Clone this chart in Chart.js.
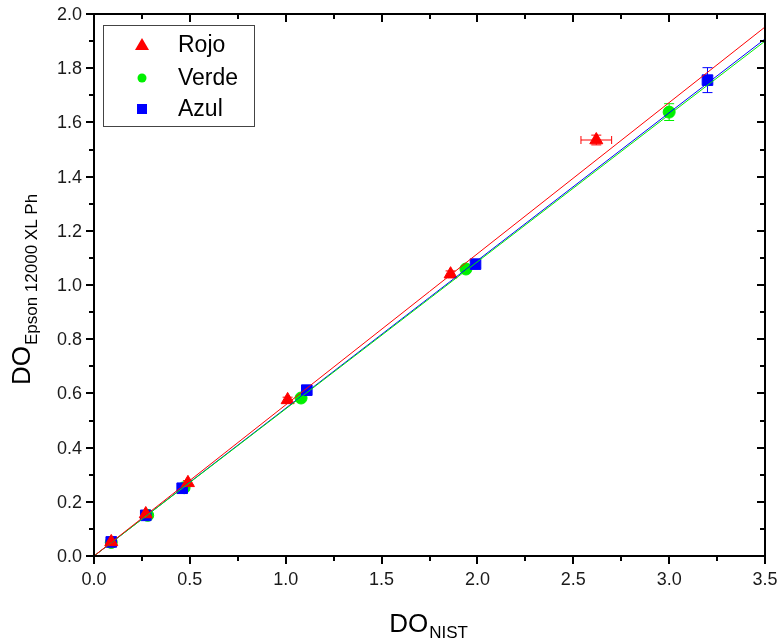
<!DOCTYPE html>
<html>
<head>
<meta charset="utf-8">
<script src="https://cdn.jsdelivr.net/npm/chart.js@4.4.0/dist/chart.umd.min.js"></script>
<style>
  html, body { margin: 0; padding: 0; background: #fff; }
  #wrap { width: 783px; height: 642px; }
</style>
</head>
<body>
<div id="wrap"><canvas id="mycanvas" width="783" height="642"></canvas></div>
<script>
// measured points (DO_NIST vs DO_Epson)
var rojoX = [0.09, 0.27, 0.49, 1.01, 1.86, 2.62];
var rojoY = [0.052, 0.155, 0.270, 0.576, 1.040, 1.535];
var rojoXErr = [0.01, 0.01, 0.01, 0.01, 0.01, 0.08];
var rojoYErr = [0.008, 0.008, 0.008, 0.010, 0.012, 0.018];

var verdeX = [0.09, 0.28, 0.47, 1.08, 1.94, 3.00];
var verdeY = [0.050, 0.150, 0.252, 0.583, 1.059, 1.638];
var verdeXErr = [0.01, 0.01, 0.01, 0.01, 0.01, 0.02];
var verdeYErr = [0.008, 0.008, 0.008, 0.010, 0.012, 0.031];

var azulX = [0.09, 0.27, 0.46, 1.11, 1.99, 3.20];
var azulY = [0.052, 0.150, 0.250, 0.612, 1.077, 1.756];
var azulXErr = [0.01, 0.01, 0.01, 0.01, 0.01, 0.02];
var azulYErr = [0.008, 0.008, 0.008, 0.010, 0.012, 0.046];

// linear fits, evaluated at the axis ends
var fitX = [0, 3.5];
var rojoFit = [0.0, 1.952];
var verdeFit = [0.0, 1.900];
var azulFit = [0.0, 1.908];

var xTicks = [0, 0.5, 1.0, 1.5, 2.0, 2.5, 3.0, 3.5];
var yTicks = [0, 0.2, 0.4, 0.6, 0.8, 1.0, 1.2, 1.4, 1.6, 1.8, 2.0];

var series = ['Rojo', 'Verde', 'Azul'];
var colors = ['#ff0000', '#00f000', '#0000ff'];

function pts(xs, ys) {
  var out = [];
  for (var i in xs) out.push({x: xs[i], y: ys[i]});
  return out;
}

var errs = [
  {x: rojoXErr, y: rojoYErr},
  {x: verdeXErr, y: verdeYErr},
  {x: azulXErr, y: azulYErr}
];

var FONT = '"Liberation Sans", Arial, sans-serif';

var errorBars = {
  id: 'errorBars',
  beforeDatasetsDraw: function(chart) {
    var ctx = chart.ctx, xs = chart.scales.x, ys = chart.scales.y;
    ctx.save();
    ctx.lineWidth = 1;
    for (var d = 0; d < 3; d++) {
      var data = chart.data.datasets[d].data;
      ctx.strokeStyle = colors[d];
      for (var i = 0; i < data.length; i++) {
        var p = data[i];
        var px = xs.getPixelForValue(p.x), py = ys.getPixelForValue(p.y);
        var x1 = xs.getPixelForValue(p.x - errs[d].x[i]), x2 = xs.getPixelForValue(p.x + errs[d].x[i]);
        var y1 = ys.getPixelForValue(p.y - errs[d].y[i]), y2 = ys.getPixelForValue(p.y + errs[d].y[i]);
        ctx.beginPath();
        ctx.moveTo(x1, py); ctx.lineTo(x2, py);
        ctx.moveTo(x1, py - 4); ctx.lineTo(x1, py + 4);
        ctx.moveTo(x2, py - 4); ctx.lineTo(x2, py + 4);
        ctx.moveTo(px, y1); ctx.lineTo(px, y2);
        ctx.moveTo(px - 5, y1); ctx.lineTo(px + 5, y1);
        ctx.moveTo(px - 5, y2); ctx.lineTo(px + 5, y2);
        ctx.stroke();
      }
    }
    ctx.restore();
  }
};

function subText(ctx, main, sub, mainSize, subSize, drop) {
  ctx.font = mainSize + 'px ' + FONT;
  var w1 = ctx.measureText(main).width;
  ctx.font = subSize + 'px ' + FONT;
  var w2 = ctx.measureText(sub).width;
  var x0 = -(w1 + w2) / 2;
  ctx.textAlign = 'left';
  ctx.textBaseline = 'alphabetic';
  ctx.font = mainSize + 'px ' + FONT;
  ctx.fillText(main, x0, 0);
  ctx.font = subSize + 'px ' + FONT;
  ctx.fillText(sub, x0 + w1 + 1, drop);
}

var frame = {
  id: 'frame',
  afterDraw: function(chart) {
    var ctx = chart.ctx, a = chart.chartArea, xs = chart.scales.x, ys = chart.scales.y;
    ctx.save();
    ctx.strokeStyle = '#000';
    ctx.lineWidth = 2;
    ctx.strokeRect(a.left, a.top, a.right - a.left, a.bottom - a.top);
    ctx.beginPath();
    // x ticks: outward on bottom, inward on top
    for (var v = 0; v <= 3.5001; v += 0.25) {
      var px = Math.round(xs.getPixelForValue(v));
      var major = Math.abs(v * 2 - Math.round(v * 2)) < 1e-6;
      var len = major ? 8 : 5;
      ctx.moveTo(px, a.bottom); ctx.lineTo(px, a.bottom + len);
      ctx.moveTo(px, a.top); ctx.lineTo(px, a.top + len);
    }
    // y ticks: outward on left, inward on right
    for (var k = 0; k <= 20; k++) {
      var py = Math.round(ys.getPixelForValue(k * 0.1));
      var len2 = k % 2 === 0 ? 8 : 5;
      ctx.moveTo(a.left, py); ctx.lineTo(a.left - len2, py);
      ctx.moveTo(a.right, py); ctx.lineTo(a.right - len2, py);
    }
    ctx.stroke();

    // tick labels
    ctx.fillStyle = '#1a1a1a';
    ctx.font = '18px ' + FONT;
    ctx.textAlign = 'center';
    ctx.textBaseline = 'top';
    xTicks.forEach(function(t) {
      ctx.fillText(t.toFixed(1), xs.getPixelForValue(t), a.bottom + 15);
    });
    ctx.textAlign = 'right';
    ctx.textBaseline = 'middle';
    yTicks.forEach(function(t) {
      ctx.fillText(t.toFixed(1), a.left - 12, ys.getPixelForValue(t) + 1);
    });

    // axis titles
    ctx.fillStyle = '#000';
    ctx.save();
    ctx.translate(428, 632);
    subText(ctx, 'DO', 'NIST', 26, 17, 6);
    ctx.restore();
    ctx.save();
    ctx.translate(30, 290);
    ctx.rotate(-Math.PI / 2);
    subText(ctx, 'DO', 'Epson 12000 XL Ph', 26, 17, 7);
    ctx.restore();

    // legend
    ctx.lineWidth = 1;
    ctx.strokeStyle = '#444';
    ctx.fillStyle = '#fff';
    ctx.fillRect(103.5, 25.5, 151, 101);
    ctx.strokeRect(103.5, 25.5, 151, 101);
    var ly = [45, 78, 109];
    for (var s = 0; s < 3; s++) {
      ctx.fillStyle = colors[s];
      var cx = 142, cy = ly[s];
      ctx.beginPath();
      if (s === 0) { ctx.moveTo(cx, cy - 7); ctx.lineTo(cx + 7, cy + 5); ctx.lineTo(cx - 7, cy + 5); ctx.closePath(); }
      else if (s === 1) { ctx.arc(cx, cy, 4.5, 0, Math.PI * 2); }
      else { ctx.rect(cx - 5, cy - 5, 10, 10); }
      ctx.fill();
      ctx.fillStyle = '#000';
      ctx.font = '23px ' + FONT;
      ctx.textAlign = 'left';
      ctx.textBaseline = 'middle';
      ctx.fillText(series[s], 178, cy + 1);
    }
    ctx.restore();
  }
};

var chartdata = {
  datasets: [
    {label: 'Rojo', data: pts(rojoX, rojoY), pointStyle: 'triangle', pointRadius: 7.5, backgroundColor: colors[0], borderColor: colors[0], showLine: false, order: 1},
    {label: 'Verde', data: pts(verdeX, verdeY), pointStyle: 'circle', pointRadius: 6, backgroundColor: colors[1], borderColor: colors[1], showLine: false, order: 3},
    {label: 'Azul', data: pts(azulX, azulY), pointStyle: 'rect', pointRadius: 7.5, backgroundColor: colors[2], borderColor: colors[2], showLine: false, order: 2},
    {label: 'fitR', data: pts(fitX, rojoFit), showLine: true, pointRadius: 0, borderColor: colors[0], borderWidth: 1, order: 0},
    {label: 'fitG', data: pts(fitX, verdeFit), showLine: true, pointRadius: 0, borderColor: colors[1], borderWidth: 1, order: 0},
    {label: 'fitB', data: pts(fitX, azulFit), showLine: true, pointRadius: 0, borderColor: colors[2], borderWidth: 1, order: 0}
  ]
};

var ctx = document.getElementById('mycanvas');
var chart = new Chart(ctx, {
  type: 'scatter',
  data: chartdata,
  plugins: [errorBars, frame],
  options: {
    responsive: false,
    animation: false,
    layout: {padding: {left: 0, top: 14, right: 18, bottom: 0}},
    plugins: {legend: {display: false}, tooltip: {enabled: false}},
    scales: {
      x: {
        type: 'linear', min: 0, max: 3.5,
        grid: {display: false}, border: {display: false},
        ticks: {display: false},
        afterFit: function(s) { s.height = 86; }
      },
      y: {
        type: 'linear', min: 0, max: 2.0,
        grid: {display: false}, border: {display: false},
        ticks: {display: false},
        afterFit: function(s) { s.width = 94; }
      }
    }
  }
});
</script>
</body>
</html>
